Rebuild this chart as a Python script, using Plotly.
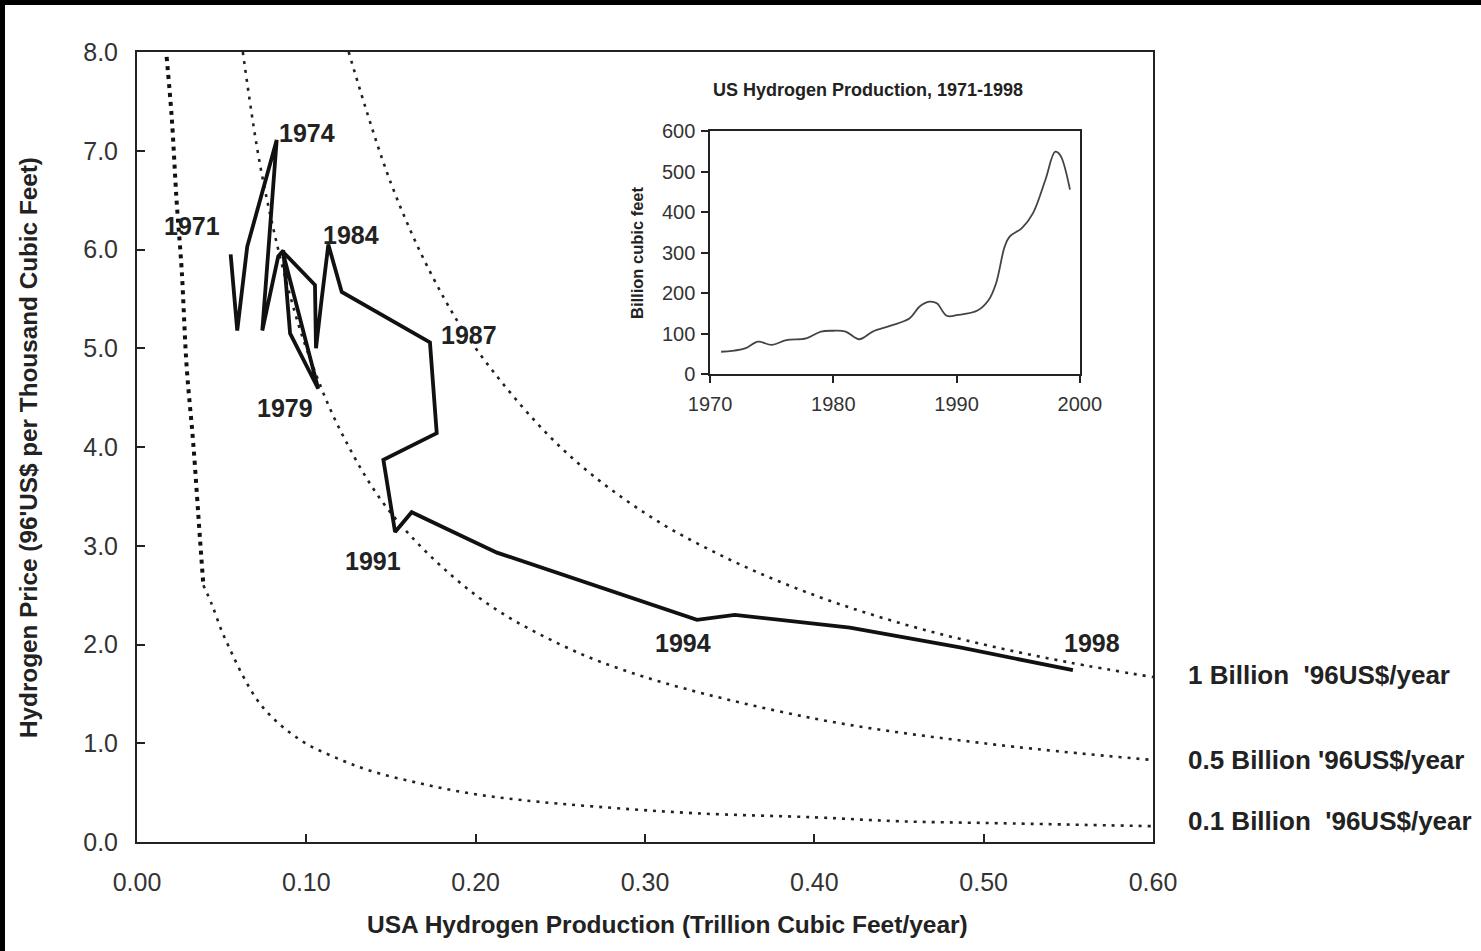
import plotly.graph_objects as go

# ---- main series: US hydrogen production vs price, 1971-1998 ----
years = list(range(1971, 1999))
production_tcf = [0.0553, 0.0592, 0.0651, 0.0825, 0.0740, 0.0834, 0.0864, 0.0904, 0.1070,
                  0.0860, 0.1051, 0.1057, 0.1090, 0.1130, 0.1209, 0.1435, 0.1730, 0.1770,
                  0.1455, 0.1524, 0.1622, 0.1880, 0.2126, 0.3307, 0.3530, 0.4210, 0.4860, 0.5527]
price_usd = [5.95, 5.18, 6.03, 7.11, 5.18, 5.93, 5.99, 5.15, 4.59,
             5.98, 5.64, 5.00, 5.49, 6.05, 5.57, 5.35, 5.06, 4.14,
             3.87, 3.14, 3.34, 3.13, 2.93, 2.25, 2.30, 2.17, 1.97, 1.74]

# ---- iso-revenue curves ----
curve1_x = [0.125, 0.15, 0.175, 0.20, 0.25, 0.30, 0.35, 0.40, 0.45, 0.50, 0.55, 0.60]
curve1_y = [8.00, 6.67, 5.71, 5.00, 4.00, 3.33, 2.86, 2.50, 2.22, 2.00, 1.82, 1.67]
curve05_x = [0.0625, 0.0716, 0.08, 0.09, 0.10, 0.12, 0.15, 0.20, 0.25, 0.30, 0.40, 0.50, 0.60]
curve05_y = [8.00, 6.96, 6.25, 5.56, 5.00, 4.17, 3.33, 2.50, 2.00, 1.67, 1.25, 1.00, 0.83]
curve01a_x = [0.0175, 0.0205, 0.0234, 0.0264, 0.0293, 0.0332, 0.0372, 0.0392]
curve01a_y = [7.95, 7.34, 6.49, 5.79, 4.82, 4.04, 3.07, 2.60]
curve01b_x = [0.0392, 0.0441, 0.052, 0.0731, 0.0958, 0.116, 0.1377, 0.167, 0.1965, 0.227,
              0.272, 0.331, 0.40, 0.45, 0.51, 0.60]
curve01b_y = [2.60, 2.41, 2.06, 1.39, 1.04, 0.864, 0.722, 0.594, 0.493, 0.425,
              0.357, 0.29, 0.25, 0.21, 0.19, 0.16]

curve_labels = ["1 Billion\u00a0 '96US$/year", "0.5 Billion '96US$/year", "0.1 Billion\u00a0 '96US$/year"]
curve_label_y = [1.69, 0.83, 0.21]

year_labels = ["1974", "1971", "1984", "1987", "1979", "1991", "1994", "1998"]
year_label_x = [0.1004, 0.0325, 0.1264, 0.196, 0.0874, 0.1394, 0.3224, 0.564]
year_label_y = [7.18, 6.24, 6.15, 5.13, 4.39, 2.85, 2.02, 2.02]

# ---- inset series ----
inset_year = [1970.9, 1971.8, 1972.9, 1973.9, 1975.0, 1976.2, 1977.8, 1979.0, 1980.0, 1981.0,
              1982.1, 1983.2, 1984.6, 1986.2, 1987.0, 1987.8, 1988.4, 1989.2, 1990.1, 1991.7,
              1992.6, 1993.2, 1993.9, 1994.3, 1995.3, 1996.2, 1997.2, 1998.0, 1998.4, 1999.2]
inset_bcf = [55, 57, 64, 80, 72, 84, 88, 105, 107, 105,
             86, 105, 119, 138, 167, 179, 175, 144, 146, 157,
             183, 224, 315, 340, 361, 398, 480, 550, 542, 456]

FONT = "Liberation Sans, Arial, sans-serif"
DOT = "3px,6px"

fig = go.Figure()
fig.add_trace(go.Scatter(x=curve1_x, y=curve1_y, mode="lines", line=dict(color="#222", width=2.6, dash=DOT, shape="spline"), hoverinfo="skip"))
fig.add_trace(go.Scatter(x=curve05_x, y=curve05_y, mode="lines", line=dict(color="#222", width=2.6, dash=DOT, shape="spline"), hoverinfo="skip"))
fig.add_trace(go.Scatter(x=curve01a_x, y=curve01a_y, mode="lines", line=dict(color="#111", width=4, dash="4px,5px", shape="spline"), hoverinfo="skip"))
fig.add_trace(go.Scatter(x=curve01b_x, y=curve01b_y, mode="lines", line=dict(color="#222", width=2.6, dash=DOT, shape="spline"), hoverinfo="skip"))
fig.add_trace(go.Scatter(x=production_tcf, y=price_usd, mode="lines", line=dict(color="#111", width=3.8), text=years))
fig.add_trace(go.Scatter(x=inset_year, y=inset_bcf, mode="lines", xaxis="x2", yaxis="y2",
                         line=dict(color="#444", width=1.8, shape="spline")))

annotations = []
for t, x, y in zip(year_labels, year_label_x, year_label_y):
    annotations.append(dict(x=x, y=y, xref="x", yref="y", text="<b>" + t + "</b>", showarrow=False,
                            xanchor="center", yanchor="middle",
                            font=dict(family=FONT, size=25, color="#222")))
for t, y in zip(curve_labels, curve_label_y):
    annotations.append(dict(x=1.0325, y=y, xref="paper", yref="y", text="<b>" + t + "</b>", showarrow=False,
                            xanchor="left", yanchor="middle", font=dict(family=FONT, size=26, color="#222")))
annotations += [
    dict(x=0.5226, y=-0.105, xref="paper", yref="paper", showarrow=False, xanchor="center", yanchor="middle",
         text="<b>USA Hydrogen Production (Trillion Cubic Feet/year)</b>", font=dict(family=FONT, size=24.5, color="#222")),
    dict(x=-0.1073, y=0.5, xref="paper", yref="paper", showarrow=False, textangle=-90, xanchor="center", yanchor="middle",
         text="<b>Hydrogen Price (96'US$ per Thousand Cubic Feet)</b>", font=dict(family=FONT, size=24.3, color="#222")),
    dict(x=0.7195, y=0.9519, xref="paper", yref="paper", showarrow=False, xanchor="center", yanchor="middle",
         text="<b>US Hydrogen Production, 1971-1998</b>", font=dict(family=FONT, size=18, color="#222")),
    dict(x=0.4921, y=0.7468, xref="paper", yref="paper", showarrow=False, textangle=-90, xanchor="center", yanchor="middle",
         text="<b>Billion cubic feet</b>", font=dict(family=FONT, size=16.5, color="#222")),
]

W, H = 1481, 951
L, R, T, B = 137, 328, 52, 109
pw, ph = W - L - R, H - T - B
shapes = [
    dict(type="rect", xref="paper", yref="paper", x0=-L / pw, x1=(W - L) / pw,
         y0=1 + (T - 5) / ph, y1=1 + T / ph, fillcolor="black", line=dict(width=0), layer="above"),
    dict(type="rect", xref="paper", yref="paper", x0=-L / pw, x1=-(L - 5) / pw,
         y0=-B / ph, y1=1 + T / ph, fillcolor="black", line=dict(width=0), layer="above"),
]

fig.update_layout(
    width=W, height=H, autosize=False,
    margin=dict(l=L, r=R, t=T, b=B, pad=0),
    paper_bgcolor="white", plot_bgcolor="white",
    showlegend=False,
    font=dict(family=FONT, color="#333"),
    annotations=annotations, shapes=shapes,
    xaxis=dict(range=[0, 0.6], dtick=0.1, tick0=0, tickformat=".2f", showgrid=False, zeroline=False,
               showline=True, mirror=True, linecolor="#222", linewidth=2,
               ticks="inside", ticklen=8, tickwidth=2, tickcolor="#222",
               tickfont=dict(size=25, color="#333"), ticklabelstandoff=17),
    yaxis=dict(range=[0, 8], dtick=1, tick0=0, tickformat=".1f", showgrid=False, zeroline=False,
               showline=True, mirror=True, linecolor="#222", linewidth=2,
               ticks="inside", ticklen=8, tickwidth=2, tickcolor="#222",
               tickfont=dict(size=25, color="#333"), ticklabelstandoff=12),
    xaxis2=dict(domain=[0.564, 0.928], anchor="y2", range=[1970, 2000], dtick=10, showgrid=False, zeroline=False,
                showline=True, mirror=True, linecolor="#222", linewidth=1.5,
                ticks="outside", ticklen=7, tickwidth=1.5, tickcolor="#222",
                tickfont=dict(size=20, color="#333"), ticklabelstandoff=4),
    yaxis2=dict(domain=[0.5924, 0.8994], anchor="x2", range=[0, 600], dtick=100, showgrid=False, zeroline=False,
                showline=True, mirror=True, linecolor="#222", linewidth=1.5,
                ticks="outside", ticklen=7, tickwidth=1.5, tickcolor="#222",
                tickfont=dict(size=20, color="#333"), ticklabelstandoff=2),
)

fig.write_html("out.html")
